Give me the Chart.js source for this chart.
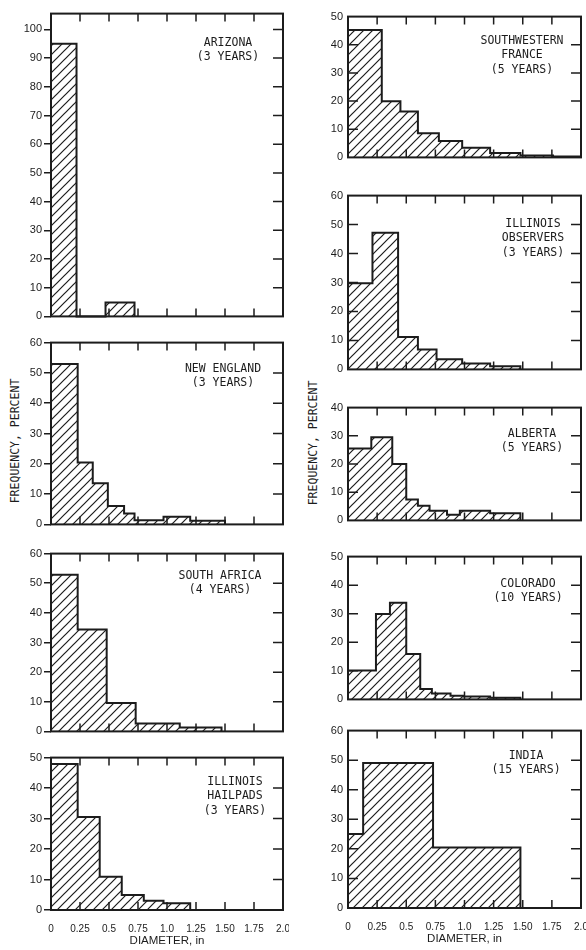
<!DOCTYPE html>
<html>
<head>
<meta charset="utf-8">
<script src="https://cdn.jsdelivr.net/npm/chart.js@4.4.1/dist/chart.umd.min.js"></script>
<style>
  body { margin: 0; width: 586px; height: 950px; background: #fff; overflow: hidden; position: relative; }
  canvas { position: absolute; }
  .ytitle {
    position: absolute; font: 11.5px "DejaVu Sans Mono"; color: #1c1c1c; white-space: nowrap;
    transform: translate(-50%, -50%) rotate(-90deg);
  }
</style>
</head>
<body>
<div class="ytitle" style="left:15px; top:441px;">FREQUENCY, PERCENT</div>
<div class="ytitle" style="left:313px; top:443px;">FREQUENCY, PERCENT</div>
<script>
// x axis (diameter, inches)
const xTickValues = [0, 0.25, 0.5, 0.75, 1.0, 1.25, 1.5, 1.75, 2.0];
const xTickLabels = ['0', '0.25', '0.5', '0.75', '1.0', '1.25', '1.50', '1.75', '2.0'];

// bin edges (in) and frequency (percent) for each site
const arizonaEdges = [0, 0.22, 0.47, 0.72];
const arizonaFreq = [95, 0, 4.8];

const newEnglandEdges = [0, 0.23, 0.36, 0.49, 0.63, 0.72, 0.97, 1.2, 1.5];
const newEnglandFreq = [52.9, 20.4, 13.6, 6.1, 3.6, 1.4, 2.5, 1.2];

const southAfricaEdges = [0, 0.23, 0.48, 0.73, 1.11, 1.47];
const southAfricaFreq = [52.9, 34.4, 9.6, 2.7, 1.3];

const hailpadEdges = [0, 0.23, 0.42, 0.61, 0.8, 0.97, 1.2];
const hailpadFreq = [47.9, 30.5, 10.9, 4.9, 3, 2.2];

const franceEdges = [0, 0.29, 0.45, 0.6, 0.78, 0.98, 1.22, 1.48, 1.76, 2.0];
const franceFreq = [45.2, 19.9, 16.3, 8.6, 5.8, 3.4, 1.6, 0.7, 0.3];

const observerEdges = [0, 0.21, 0.43, 0.6, 0.76, 0.98, 1.22, 1.48];
const observerFreq = [29.7, 47.2, 11.2, 6.9, 3.5, 2, 1.1];

const albertaEdges = [0, 0.2, 0.38, 0.5, 0.6, 0.7, 0.85, 0.96, 1.22, 1.48];
const albertaFreq = [25.5, 29.5, 20, 7.4, 5.2, 3.4, 2, 3.4, 2.5];

const coloradoEdges = [0, 0.24, 0.36, 0.5, 0.62, 0.72, 0.88, 0.99, 1.22, 1.48];
const coloradoFreq = [10.1, 29.9, 33.8, 15.9, 3.6, 2.1, 1.3, 1.0, 0.6];

const indiaEdges = [0, 0.13, 0.73, 1.48];
const indiaFreq = [25, 49, 20.5];

const ink = '#1c1c1c';
Chart.defaults.color = ink;

// panel layout: plot box [left, top, right, bottom], caption offset from top-right corner
const panels = [
  { edges: arizonaEdges, freq: arizonaFreq, yMax: 105.5, box: [51, 13, 283, 319], cap: [55, 29], caption: ['ARIZONA', '(3 YEARS)'], leftOut: true },
  { edges: newEnglandEdges, freq: newEnglandFreq, yMax: 60, box: [51, 342, 283, 527], cap: [60, 26], caption: ['NEW ENGLAND', '(3 YEARS)'], leftOut: true },
  { edges: southAfricaEdges, freq: southAfricaFreq, yMax: 60, box: [51, 553, 283, 734], cap: [63, 22], caption: ['SOUTH AFRICA', '(4 YEARS)'], leftOut: true },
  { edges: hailpadEdges, freq: hailpadFreq, yMax: 50, box: [51, 757, 283, 910], cap: [48, 24], caption: ['ILLINOIS', 'HAILPADS', '(3 YEARS)'], leftOut: true, xLabels: true },
  { edges: franceEdges, freq: franceFreq, yMax: 50, box: [348, 13, 581, 163], cap: [59, 24], caption: ['SOUTHWESTERN', 'FRANCE', '(5 YEARS)'] },
  { edges: observerEdges, freq: observerFreq, yMax: 60, box: [348, 192, 581, 375], cap: [48, 28], caption: ['ILLINOIS', 'OBSERVERS', '(3 YEARS)'] },
  { edges: albertaEdges, freq: albertaFreq, yMax: 40, box: [348, 404, 581, 526], cap: [49, 26], caption: ['ALBERTA', '(5 YEARS)'] },
  { edges: coloradoEdges, freq: coloradoFreq, yMax: 50, box: [348, 553, 581, 705], cap: [53, 27], caption: ['COLORADO', '(10 YEARS)'] },
  { edges: indiaEdges, freq: indiaFreq, yMax: 60, box: [348, 727, 581, 908], cap: [55, 25], caption: ['INDIA', '(15 YEARS)'], xLabels: true }
];

function makeHatch() {
  var c = document.createElement('canvas');
  c.width = c.height = 9;
  var g = c.getContext('2d');
  g.strokeStyle = ink;
  g.lineWidth = 1.2;
  g.beginPath();
  g.moveTo(-1, 10); g.lineTo(10, -1);
  g.moveTo(-1, 1); g.lineTo(1, -1);
  g.moveTo(8, 10); g.lineTo(10, 8);
  g.stroke();
  return g.createPattern(c, 'repeat');
}
const hatch = makeHatch();

function makePanel(p) {
  var L = p.box[0], T = p.box[1], R = p.box[2], B = p.box[3];
  var axisW = 40, padTop = 8, padRight = 6;
  var bottomH = p.xLabels ? 42 : 6;

  var canvas = document.createElement('canvas');
  canvas.width = (R - L) + axisW + padRight;
  canvas.height = (B - T) + padTop + bottomH;
  canvas.style.left = (L - axisW) + 'px';
  canvas.style.top = (T - padTop) + 'px';
  document.body.appendChild(canvas);

  // histogram outline: up at the first edge, across each bin, down at the last edge
  var pts = [{ x: p.edges[0], y: 0 }];
  for (var i = 0; i < p.freq.length; i++) {
    pts.push({ x: p.edges[i], y: p.freq[i] });
    pts.push({ x: p.edges[i + 1], y: p.freq[i] });
  }
  pts.push({ x: p.edges[p.edges.length - 1], y: 0 });

  // box, inward tick marks and caption
  var frame = {
    id: 'frame',
    afterDraw: function (chart) {
      var ctx = chart.ctx, a = chart.chartArea, x = chart.scales.x, y = chart.scales.y;
      ctx.save();
      ctx.strokeStyle = ink;
      ctx.lineWidth = 2;
      ctx.strokeRect(a.left, a.top, a.right - a.left, a.bottom - a.top);
      ctx.lineWidth = 1.5;
      ctx.beginPath();
      xTickValues.slice(1, -1).forEach(function (v) {
        var px = x.getPixelForValue(v);
        ctx.moveTo(px, a.top); ctx.lineTo(px, a.top + 8);
        ctx.moveTo(px, a.bottom); ctx.lineTo(px, a.bottom - 8);
      });
      y.ticks.forEach(function (t) {
        if (t.value <= 0 || t.value >= y.max) return;
        var py = y.getPixelForValue(t.value);
        ctx.moveTo(a.right, py); ctx.lineTo(a.right - 10, py);
        if (!p.leftOut) { ctx.moveTo(a.left, py); ctx.lineTo(a.left + 10, py); }
      });
      ctx.stroke();
      ctx.fillStyle = ink;
      ctx.font = '11.5px "DejaVu Sans Mono"';
      ctx.textAlign = 'center';
      ctx.textBaseline = 'middle';
      p.caption.forEach(function (line, k) {
        ctx.fillText(line, a.right - p.cap[0], a.top + p.cap[1] + k * 14.5);
      });
      ctx.restore();
    }
  };

  new Chart(canvas, {
    type: 'line',
    data: {
      datasets: [{
        data: pts,
        borderColor: ink,
        borderWidth: 2,
        backgroundColor: hatch,
        fill: 'origin',
        pointRadius: 0,
        tension: 0,
        clip: 2
      }]
    },
    options: {
      responsive: false,
      animation: false,
      events: [],
      layout: { autoPadding: false, padding: { top: padTop, right: padRight, bottom: p.xLabels ? 0 : bottomH, left: 0 } },
      plugins: { legend: { display: false }, tooltip: { enabled: false } },
      scales: {
        x: {
          type: 'linear', min: 0, max: 2,
          display: !!p.xLabels,
          grid: { display: false },
          border: { display: false },
          afterBuildTicks: function (s) { s.ticks = xTickValues.map(function (v) { return { value: v }; }); },
          ticks: {
            autoSkip: false, maxRotation: 0, padding: 5,
            font: { family: 'Liberation Sans', size: 10 },
            callback: function (v, i) { return xTickLabels[i]; }
          },
          title: {
            display: true, text: 'DIAMETER, in',
            font: { family: 'Liberation Sans', size: 11.5 },
            padding: { top: 0, bottom: 4 }
          },
          afterFit: function (s) {
            s.height = p.xLabels ? 42 : 0;
            s.paddingLeft = 0;
            s.paddingRight = 0;
          }
        },
        y: {
          min: 0, max: p.yMax,
          grid: { drawOnChartArea: false, drawTicks: !!p.leftOut, tickLength: 7, color: ink, lineWidth: 1.5 },
          border: { display: false },
          afterBuildTicks: function (s) { s.ticks = s.ticks.filter(function (t) { return t.value % 10 === 0; }); },
          ticks: { stepSize: 10, padding: p.leftOut ? 2 : 5, font: { family: 'Liberation Sans', size: 11 } },
          afterFit: function (s) { s.width = axisW; }
        }
      }
    },
    plugins: [frame]
  });
}

panels.forEach(makePanel);
</script>
</body>
</html>
